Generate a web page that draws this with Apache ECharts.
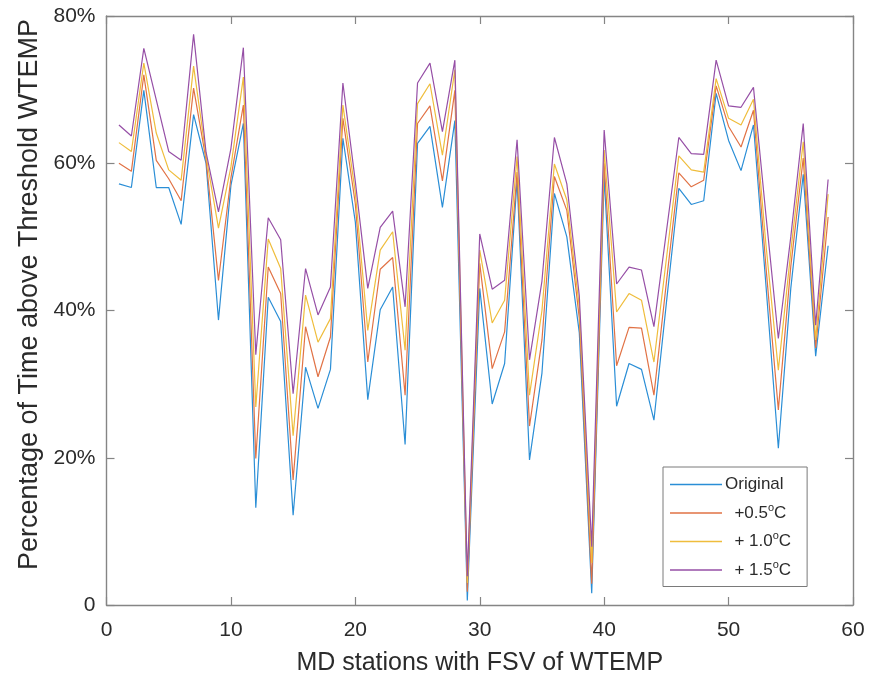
<!DOCTYPE html>
<html>
<head>
<meta charset="utf-8">
<script src="https://cdn.jsdelivr.net/npm/echarts@6/dist/echarts.min.js"></script>
<style>html,body{margin:0;padding:0;background:#fff;}#c{width:881px;height:676px;}</style>
</head>
<body>
<div id="c"></div>
<script>
const stations = Array.from({length: 58}, (_, i) => i + 1);
const original = [57.2,56.7,69.9,56.7,56.7,51.7,66.6,60.0,38.7,57.0,65.4,13.2,41.8,38.5,12.2,32.3,26.7,32.0,63.4,52.0,27.9,40.1,43.2,21.8,62.7,65.0,54.0,65.8,0.6,43.0,27.3,32.8,57.7,19.7,31.5,55.9,50.0,37.0,1.6,58.2,27.0,32.8,32.0,25.1,41.0,56.6,54.4,54.9,69.5,63.1,59.0,65.2,43.5,21.3,43.0,58.5,33.8,48.8];
const plus05 = [60.0,58.9,72.0,60.4,57.9,54.9,70.2,60.5,44.1,58.0,67.9,19.9,45.9,42.3,17.0,37.8,31.0,36.4,66.1,54.5,33.0,45.6,47.2,28.5,65.4,67.8,57.6,69.9,1.8,46.4,32.1,37.1,58.8,24.3,36.0,58.2,53.6,39.0,2.9,60.0,32.5,37.7,37.6,28.5,43.8,58.7,56.8,57.7,70.5,65.0,62.2,67.2,46.0,26.5,46.0,60.7,34.9,52.7];
const plus10 = [62.8,61.6,73.6,64.1,59.1,57.7,73.2,61.0,51.2,59.5,71.7,26.9,49.7,45.7,23.0,42.1,35.7,38.9,67.9,56.0,37.3,48.2,50.7,34.6,68.1,70.8,61.1,72.7,3.0,48.2,38.3,41.4,60.9,28.5,40.0,59.9,55.0,40.5,5.7,61.8,39.8,42.3,41.4,33.0,47.0,61.0,59.1,58.8,71.5,66.1,65.2,68.7,49.0,31.9,48.0,62.9,36.0,55.8];
const plus15 = [65.2,63.7,75.6,68.6,61.6,60.4,77.5,61.5,53.4,62.0,75.7,34.0,52.6,49.6,28.7,45.7,39.4,43.2,70.9,57.5,43.0,51.3,53.5,40.5,70.9,73.6,64.3,74.0,3.9,50.4,42.9,44.1,63.2,33.3,44.0,63.5,57.2,42.0,7.9,64.5,43.6,45.9,45.5,37.8,50.7,63.5,61.3,61.2,74.0,67.8,67.6,70.3,53.0,36.2,50.0,65.4,38.0,57.8];
const seriesNames = ['Original', '+0.5', '+1.0', '+1.5'];
const xTicks = [0, 10, 20, 30, 40, 50, 60];
const yTicks = [0, 20, 40, 60, 80];

const colors = ['#2a8ed6', '#e17245', '#efbd3c', '#964fa6'];
const dataSets = [original, plus05, plus10, plus15];
const legendText = {
  'Original': 'Original',
  '+0.5': '  +0.5{sup|o}C',
  '+1.0': '  + 1.0{sup|o}C',
  '+1.5': '  + 1.5{sup|o}C'
};
const axisColor = '#858585';
const textColor = '#2b2b2b';
const font = 'Liberation Sans, Arial, Helvetica, sans-serif';

const chart = echarts.init(document.getElementById('c'), null, {renderer: 'canvas'});
const tickStyle = {show: true, inside: true, length: 8, lineStyle: {color: axisColor, width: 1.2}};
const lineStyle = {show: true, onZero: false, lineStyle: {color: axisColor, width: 1.4}};
const option = {
  backgroundColor: '#fff',
  animation: false,
  grid: {left: 106.5, right: 28, top: 16, bottom: 71, containLabel: false, outerBoundsMode: 'none'},
  legend: {
    orient: 'vertical',
    left: 663, top: 467,
    padding: [9, 16, 8, 7],
    borderColor: '#7a7a7a', borderWidth: 1,
    backgroundColor: '#fff',
    icon: 'rect',
    itemWidth: 52, itemHeight: 1.6,
    itemGap: 9,
    data: seriesNames,
    formatter: n => legendText[n],
    textStyle: {
      fontSize: 17, color: textColor, fontFamily: font, padding: [0, 0, 0, -2],
      rich: {sup: {fontSize: 11, color: textColor, fontFamily: font, padding: [0, 0, 11, 0]}}
    }
  },
  xAxis: [{
    type: 'value', min: xTicks[0], max: xTicks[xTicks.length - 1], interval: 10,
    name: 'MD stations with FSV of WTEMP', nameLocation: 'middle', nameGap: 46,
    nameTextStyle: {fontSize: 25, color: textColor, fontFamily: font},
    axisLine: lineStyle,
    axisTick: tickStyle,
    axisLabel: {fontSize: 21, color: textColor, fontFamily: font, margin: 15},
    splitLine: {show: false}
  }, {
    type: 'value', position: 'top', min: 0, max: 60, interval: 10,
    axisLine: lineStyle, axisTick: tickStyle,
    axisLabel: {show: false}, splitLine: {show: false}
  }],
  yAxis: [{
    type: 'value', min: yTicks[0], max: yTicks[yTicks.length - 1], interval: 20,
    name: 'Percentage of Time above Threshold WTEMP', nameLocation: 'middle', nameGap: 63,
    nameTextStyle: {fontSize: 27, color: textColor, fontFamily: font, padding: [0, 0, 0, 32]},
    axisLine: lineStyle,
    axisTick: tickStyle,
    axisLabel: {fontSize: 21, color: textColor, fontFamily: font, margin: 11,
      formatter: v => v === 0 ? '0' : v + '%'},
    splitLine: {show: false}
  }, {
    type: 'value', position: 'right', min: 0, max: 80, interval: 20,
    axisLine: lineStyle, axisTick: tickStyle,
    axisLabel: {show: false}, splitLine: {show: false}
  }],
  series: seriesNames.map((name, k) => ({
    name: name,
    type: 'line',
    data: stations.map((s, i) => [s, dataSets[k][i]]),
    showSymbol: false,
    symbol: 'none',
    lineStyle: {color: colors[k], width: 1.2},
    itemStyle: {color: colors[k]},
    emphasis: {disabled: true},
    z: 2 + k
  }))
};
chart.setOption(option);
</script>
</body>
</html>
